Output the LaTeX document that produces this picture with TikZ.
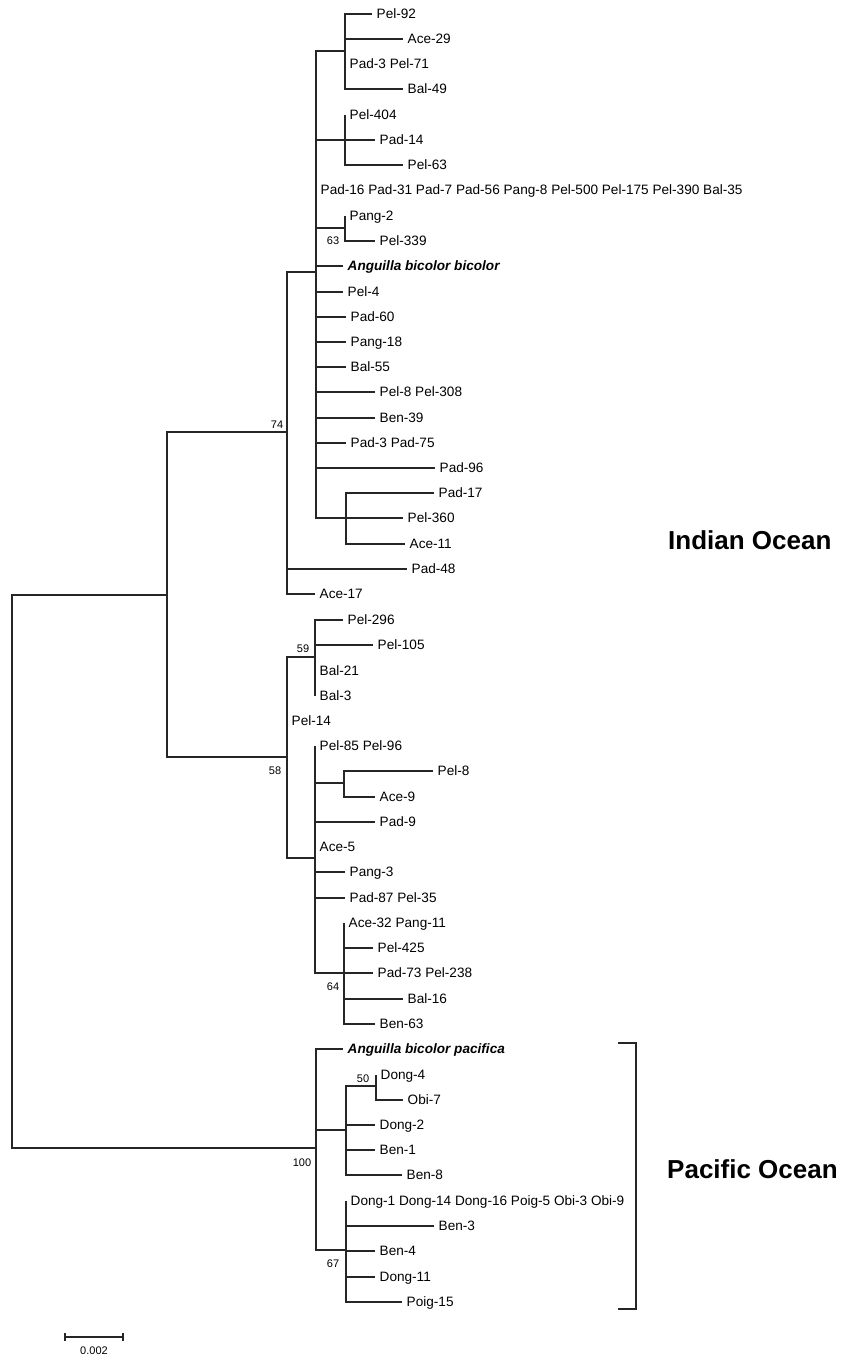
\documentclass[tikz,border=0pt]{standalone}
\usepackage{fontspec}
\setmainfont{Liberation Sans}
\begin{document}
\begin{tikzpicture}[x=1pt,y=-1pt,
  leaf/.style={anchor=west,inner xsep=4.5pt,inner ysep=0pt,text height=9.7pt,text depth=0pt,font=\fontsize{13.6}{16}\selectfont},
  spec/.style={leaf,font=\fontsize{13.6}{16}\selectfont\bfseries\itshape},
  boot/.style={inner sep=0pt,font=\fontsize{11}{13}\selectfont},
  ocean/.style={anchor=base west,inner sep=0pt,font=\fontsize{26}{30}\selectfont\bfseries},
  br/.style={line width=1.2pt,draw=black!85,line join=miter}]
\useasboundingbox (0,0) rectangle (843,1355);
% internal nodes
\coordinate (R) at (12,871);
\coordinate (I) at (167,595);
\coordinate (N74) at (287,432);
\coordinate (M) at (316,272);
\coordinate (A) at (345,51);
\coordinate (B) at (345,140);
\coordinate (C63) at (345,228);
\coordinate (D) at (346,518);
\coordinate (N58) at (287,757);
\coordinate (N59) at (315,657);
\coordinate (S) at (315,858);
\coordinate (E) at (344,783);
\coordinate (F64) at (344,973);
\coordinate (P) at (316,1148);
\coordinate (G) at (346,1130);
\coordinate (N50) at (376,1086);
\coordinate (H67) at (346,1250);
% leaves
\node[leaf] (l1) at (372,14) {Pel-92};
\node[leaf] (l2) at (403,39) {Ace-29};
\node[leaf] (l3) at (345,64) {Pad-3 Pel-71};
\node[leaf] (l4) at (403,89) {Bal-49};
\node[leaf] (l5) at (345,115) {Pel-404};
\node[leaf] (l6) at (375,140) {Pad-14};
\node[leaf] (l7) at (403,165) {Pel-63};
\node[leaf] (l8) at (316,190) {Pad-16 Pad-31 Pad-7 Pad-56 Pang-8 Pel-500 Pel-175 Pel-390 Bal-35};
\node[leaf] (l9) at (345,216) {Pang-2};
\node[leaf] (l10) at (375,241) {Pel-339};
\node[spec] (l11) at (343,266) {Anguilla bicolor bicolor};
\node[leaf] (l12) at (343,292) {Pel-4};
\node[leaf] (l13) at (346,317) {Pad-60};
\node[leaf] (l14) at (346,342) {Pang-18};
\node[leaf] (l15) at (346,367) {Bal-55};
\node[leaf] (l16) at (375,392) {Pel-8 Pel-308};
\node[leaf] (l17) at (375,418) {Ben-39};
\node[leaf] (l18) at (346,443) {Pad-3 Pad-75};
\node[leaf] (l19) at (435,468) {Pad-96};
\node[leaf] (l20) at (434,493) {Pad-17};
\node[leaf] (l21) at (403,518) {Pel-360};
\node[leaf] (l22) at (405,544) {Ace-11};
\node[leaf] (l23) at (407,569) {Pad-48};
\node[leaf] (l24) at (315,594) {Ace-17};
\node[leaf] (l25) at (343,620) {Pel-296};
\node[leaf] (l26) at (373,645) {Pel-105};
\node[leaf] (l27) at (315,671) {Bal-21};
\node[leaf] (l28) at (315,696) {Bal-3};
\node[leaf] (l29) at (287,721) {Pel-14};
\node[leaf] (l30) at (315,746) {Pel-85 Pel-96};
\node[leaf] (l31) at (433,771) {Pel-8};
\node[leaf] (l32) at (375,797) {Ace-9};
\node[leaf] (l33) at (375,822) {Pad-9};
\node[leaf] (l34) at (315,847) {Ace-5};
\node[leaf] (l35) at (345,872) {Pang-3};
\node[leaf] (l36) at (345,898) {Pad-87 Pel-35};
\node[leaf] (l37) at (344,923) {Ace-32 Pang-11};
\node[leaf] (l38) at (373,948) {Pel-425};
\node[leaf] (l39) at (373,973) {Pad-73 Pel-238};
\node[leaf] (l40) at (403,999) {Bal-16};
\node[leaf] (l41) at (375,1024) {Ben-63};
\node[spec] (l42) at (343,1049) {Anguilla bicolor pacifica};
\node[leaf] (l43) at (376,1075) {Dong-4};
\node[leaf] (l44) at (403,1100) {Obi-7};
\node[leaf] (l45) at (375,1125) {Dong-2};
\node[leaf] (l46) at (375,1150) {Ben-1};
\node[leaf] (l47) at (402,1175) {Ben-8};
\node[leaf] (l48) at (346,1201) {Dong-1 Dong-14 Dong-16 Poig-5 Obi-3 Obi-9};
\node[leaf] (l49) at (434,1226) {Ben-3};
\node[leaf] (l50) at (375,1251) {Ben-4};
\node[leaf] (l51) at (375,1277) {Dong-11};
\node[leaf] (l52) at (402,1302) {Poig-15};
% bootstrap values
\node[boot] (b74) at (277,425) {74};
\node[boot] (b63) at (333,241) {63};
\node[boot] (b59) at (303,649) {59};
\node[boot] (b58) at (275,771) {58};
\node[boot] (b64) at (333,987) {64};
\node[boot] (b50) at (363,1079) {50};
\node[boot] (b100) at (302,1163) {100};
\node[boot] (b67) at (333,1264) {67};
% branches
\draw[br] (R) |- (I);
\draw[br] (R) |- (P);
\draw[br] (I) |- (N74);
\draw[br] (I) |- (N58);
\draw[br] (N74) |- (M);
\draw[br] (N74) |- (l23.west);
\draw[br] (N74) |- (l24.west);
\draw[br] (M) |- (A);
\draw[br] (M) |- (B);
\draw[br] (M) |- (l8.west);
\draw[br] (M) |- (C63);
\foreach \n in {l11,l12,l13,l14,l15,l16,l17,l18,l19} {\draw[br] (M) |- (\n.west);}
\draw[br] (M) |- (D);
\foreach \n in {l1,l2,l3,l4} {\draw[br] (A) |- (\n.west);}
\foreach \n in {l5,l6,l7} {\draw[br] (B) |- (\n.west);}
\foreach \n in {l9,l10} {\draw[br] (C63) |- (\n.west);}
\foreach \n in {l20,l21,l22} {\draw[br] (D) |- (\n.west);}
\draw[br] (N58) |- (N59);
\draw[br] (N58) |- (l29.west);
\draw[br] (N58) |- (S);
\foreach \n in {l25,l26,l27,l28} {\draw[br] (N59) |- (\n.west);}
\draw[br] (S) |- (l30.west);
\draw[br] (S) |- (E);
\foreach \n in {l33,l34,l35,l36} {\draw[br] (S) |- (\n.west);}
\draw[br] (S) |- (F64);
\foreach \n in {l31,l32} {\draw[br] (E) |- (\n.west);}
\foreach \n in {l37,l38,l39,l40,l41} {\draw[br] (F64) |- (\n.west);}
\draw[br] (P) |- (l42.west);
\draw[br] (P) |- (G);
\draw[br] (P) |- (H67);
\draw[br] (G) |- (N50);
\foreach \n in {l45,l46,l47} {\draw[br] (G) |- (\n.west);}
\foreach \n in {l43,l44} {\draw[br] (N50) |- (\n.west);}
\foreach \n in {l48,l49,l50,l51,l52} {\draw[br] (H67) |- (\n.west);}
% region labels
\node[ocean] (io) at (668,549) {Indian Ocean};
\node[ocean] (po) at (667,1178) {Pacific Ocean};
\coordinate (bt) at (618,1043);
\coordinate (bb) at (618,1309);
\draw[line width=2pt,draw=black!85] (bt) -- ++(18,0) |- (bb);
% scale bar
\coordinate (s1) at (65,1337);
\coordinate (s2) at (123,1337);
\draw[line width=1.3pt,draw=black!85] (s1) -- (s2);
\draw[line width=1.3pt,draw=black!85] ([yshift=4pt]s1) -- ([yshift=-4pt]s1);
\draw[line width=1.3pt,draw=black!85] ([yshift=4pt]s2) -- ([yshift=-4pt]s2);
\node[boot,anchor=base] (sl) at (94,1354) {0.002};
\end{tikzpicture}
\end{document}
